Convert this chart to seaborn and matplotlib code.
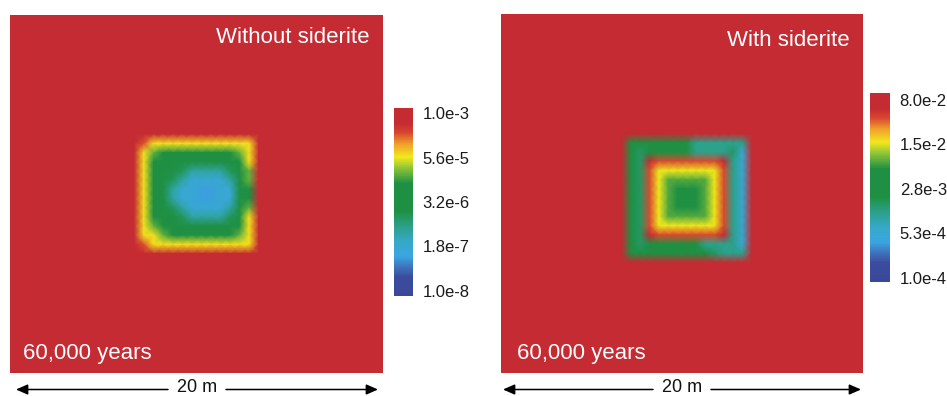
import numpy as np
import pandas as pd
import matplotlib
matplotlib.use("Agg")
import matplotlib.pyplot as plt
from matplotlib.colors import LinearSegmentedColormap
from matplotlib.patches import FancyArrowPatch
import seaborn as sns

# ---------------- data (log10 concentration fields, 40 x 40 samples over 20 m x 20 m) ----------------
LEFT_CODES = ["R", "O", "Y", "y", "G", "g", "t", "B", "b"]
LEFT_LOG10 = [-2.9, -3.6, -4.2, -4.7, -5.5, -5.9, -6.35, -6.8, -7.05]
LEFT_TICK_LABELS = ["1.0e-8", "1.8e-7", "3.2e-6", "5.6e-5", "1.0e-3"]
LEFT_RANGE = [-8.14, -2.86]

RIGHT_CODES = ["R", "O", "Y", "y", "g", "G", "T", "t", "B"]
RIGHT_LOG10 = [-1.0, -1.4, -1.8, -2.1, -2.3, -2.55, -2.8, -2.95, -3.25]
RIGHT_TICK_LABELS = ["1.0e-4", "5.3e-4", "2.8e-3", "1.5e-2", "8.0e-2"]
RIGHT_RANGE = [-4.07, -0.99]

LEFT_ROWS = [
    "RRRRRRRRRR" "RRRRRRRRRR" "RRRRRRRRRR" "RRRRRRRRRR",
    "RRRRRRRRRR" "RRRRRRRRRR" "RRRRRRRRRR" "RRRRRRRRRR",
    "RRRRRRRRRR" "RRRRRRRRRR" "RRRRRRRRRR" "RRRRRRRRRR",
    "RRRRRRRRRR" "RRRRRRRRRR" "RRRRRRRRRR" "RRRRRRRRRR",
    "RRRRRRRRRR" "RRRRRRRRRR" "RRRRRRRRRR" "RRRRRRRRRR",
    "RRRRRRRRRR" "RRRRRRRRRR" "RRRRRRRRRR" "RRRRRRRRRR",
    "RRRRRRRRRR" "RRRRRRRRRR" "RRRRRRRRRR" "RRRRRRRRRR",
    "RRRRRRRRRR" "RRRRRRRRRR" "RRRRRRRRRR" "RRRRRRRRRR",
    "RRRRRRRRRR" "RRRRRRRRRR" "RRRRRRRRRR" "RRRRRRRRRR",
    "RRRRRRRRRR" "RRRRRRRRRR" "RRRRRRRRRR" "RRRRRRRRRR",
    "RRRRRRRRRR" "RRRRRRRRRR" "RRRRRRRRRR" "RRRRRRRRRR",
    "RRRRRRRRRR" "RRRRRRRRRR" "RRRRRRRRRR" "RRRRRRRRRR",
    "RRRRRRRRRR" "RRRRRRRRRR" "RRRRRRRRRR" "RRRRRRRRRR",
    "RRRRRRRRRR" "RRRRRRRRRR" "RRRRRRRRRR" "RRRRRRRRRR",
    "RRRRRRR" "RRRRRRR" "OYYYYYYYYYYY" "RRRRRRR" "RRRRRRR",
    "RRRRRRR" "RRRRRRR" "YyGGGGGGGGyY" "RRRRRRR" "RRRRRRR",
    "RRRRRRR" "RRRRRRR" "YGGGGGGGGGGY" "RRRRRRR" "RRRRRRR",
    "RRRRRRR" "RRRRRRR" "YGGGgttttgGy" "RRRRRRR" "RRRRRRR",
    "RRRRRRR" "RRRRRRR" "YGGgtBBBBtGy" "RRRRRRR" "RRRRRRR",
    "RRRRRRR" "RRRRRRR" "YGGtBBbbBBGG" "RRRRRRR" "RRRRRRR",
    "RRRRRRR" "RRRRRRR" "YGGtBBbbBBGG" "RRRRRRR" "RRRRRRR",
    "RRRRRRR" "RRRRRRR" "YGGgtBBBBtGy" "RRRRRRR" "RRRRRRR",
    "RRRRRRR" "RRRRRRR" "YGGGgttttgGY" "RRRRRRR" "RRRRRRR",
    "RRRRRRR" "RRRRRRR" "YyGGGGGGGGGY" "RRRRRRR" "RRRRRRR",
    "RRRRRRR" "RRRRRRR" "YYyGGGGGGGyY" "RRRRRRR" "RRRRRRR",
    "RRRRRRR" "RRRRRRR" "OYYYYYYYYYYY" "RRRRRRR" "RRRRRRR",
    "RRRRRRRRRR" "RRRRRRRRRR" "RRRRRRRRRR" "RRRRRRRRRR",
    "RRRRRRRRRR" "RRRRRRRRRR" "RRRRRRRRRR" "RRRRRRRRRR",
    "RRRRRRRRRR" "RRRRRRRRRR" "RRRRRRRRRR" "RRRRRRRRRR",
    "RRRRRRRRRR" "RRRRRRRRRR" "RRRRRRRRRR" "RRRRRRRRRR",
    "RRRRRRRRRR" "RRRRRRRRRR" "RRRRRRRRRR" "RRRRRRRRRR",
    "RRRRRRRRRR" "RRRRRRRRRR" "RRRRRRRRRR" "RRRRRRRRRR",
    "RRRRRRRRRR" "RRRRRRRRRR" "RRRRRRRRRR" "RRRRRRRRRR",
    "RRRRRRRRRR" "RRRRRRRRRR" "RRRRRRRRRR" "RRRRRRRRRR",
    "RRRRRRRRRR" "RRRRRRRRRR" "RRRRRRRRRR" "RRRRRRRRRR",
    "RRRRRRRRRR" "RRRRRRRRRR" "RRRRRRRRRR" "RRRRRRRRRR",
    "RRRRRRRRRR" "RRRRRRRRRR" "RRRRRRRRRR" "RRRRRRRRRR",
    "RRRRRRRRRR" "RRRRRRRRRR" "RRRRRRRRRR" "RRRRRRRRRR",
    "RRRRRRRRRR" "RRRRRRRRRR" "RRRRRRRRRR" "RRRRRRRRRR",
    "RRRRRRRRRR" "RRRRRRRRRR" "RRRRRRRRRR" "RRRRRRRRRR",
]

RIGHT_ROWS = [
    "RRRRRRRRRR" "RRRRRRRRRR" "RRRRRRRRRR" "RRRRRRRRRR",
    "RRRRRRRRRR" "RRRRRRRRRR" "RRRRRRRRRR" "RRRRRRRRRR",
    "RRRRRRRRRR" "RRRRRRRRRR" "RRRRRRRRRR" "RRRRRRRRRR",
    "RRRRRRRRRR" "RRRRRRRRRR" "RRRRRRRRRR" "RRRRRRRRRR",
    "RRRRRRRRRR" "RRRRRRRRRR" "RRRRRRRRRR" "RRRRRRRRRR",
    "RRRRRRRRRR" "RRRRRRRRRR" "RRRRRRRRRR" "RRRRRRRRRR",
    "RRRRRRRRRR" "RRRRRRRRRR" "RRRRRRRRRR" "RRRRRRRRRR",
    "RRRRRRRRRR" "RRRRRRRRRR" "RRRRRRRRRR" "RRRRRRRRRR",
    "RRRRRRRRRR" "RRRRRRRRRR" "RRRRRRRRRR" "RRRRRRRRRR",
    "RRRRRRRRRR" "RRRRRRRRRR" "RRRRRRRRRR" "RRRRRRRRRR",
    "RRRRRRRRRR" "RRRRRRRRRR" "RRRRRRRRRR" "RRRRRRRRRR",
    "RRRRRRRRRR" "RRRRRRRRRR" "RRRRRRRRRR" "RRRRRRRRRR",
    "RRRRRRRRRR" "RRRRRRRRRR" "RRRRRRRRRR" "RRRRRRRRRR",
    "RRRRRRRRRR" "RRRRRRRRRR" "RRRRRRRRRR" "RRRRRRRRRR",
    "RRRRRRR" "RRRRRRR" "GGGGGGGtttttt" "RRRRRRR" "RRRRRR",
    "RRRRRRR" "RRRRRRR" "GTGGGGGttttTB" "RRRRRRR" "RRRRRR",
    "RRRRRRR" "RRRRRRR" "GTROOOOOOORtB" "RRRRRRR" "RRRRRR",
    "RRRRRRR" "RRRRRRR" "GTOYYYYYYYOtB" "RRRRRRR" "RRRRRR",
    "RRRRRRR" "RRRRRRR" "GTOYyyyyyYOtB" "RRRRRRR" "RRRRRR",
    "RRRRRRR" "RRRRRRR" "GTOYygggyYOtB" "RRRRRRR" "RRRRRR",
    "RRRRRRR" "RRRRRRR" "GTOYygGgyYOtB" "RRRRRRR" "RRRRRR",
    "RRRRRRR" "RRRRRRR" "GTOYygggyYOtB" "RRRRRRR" "RRRRRR",
    "RRRRRRR" "RRRRRRR" "GTOYyyyyyYOtB" "RRRRRRR" "RRRRRR",
    "RRRRRRR" "RRRRRRR" "GTOYYYYYYYOtB" "RRRRRRR" "RRRRRR",
    "RRRRRRR" "RRRRRRR" "GTROOOOOOORtB" "RRRRRRR" "RRRRRR",
    "RRRRRRR" "RRRRRRR" "GTGGGGGGttttB" "RRRRRRR" "RRRRRR",
    "RRRRRRR" "RRRRRRR" "GGGGGGGGGTttt" "RRRRRRR" "RRRRRR",
    "RRRRRRRRRR" "RRRRRRRRRR" "RRRRRRRRRR" "RRRRRRRRRR",
    "RRRRRRRRRR" "RRRRRRRRRR" "RRRRRRRRRR" "RRRRRRRRRR",
    "RRRRRRRRRR" "RRRRRRRRRR" "RRRRRRRRRR" "RRRRRRRRRR",
    "RRRRRRRRRR" "RRRRRRRRRR" "RRRRRRRRRR" "RRRRRRRRRR",
    "RRRRRRRRRR" "RRRRRRRRRR" "RRRRRRRRRR" "RRRRRRRRRR",
    "RRRRRRRRRR" "RRRRRRRRRR" "RRRRRRRRRR" "RRRRRRRRRR",
    "RRRRRRRRRR" "RRRRRRRRRR" "RRRRRRRRRR" "RRRRRRRRRR",
    "RRRRRRRRRR" "RRRRRRRRRR" "RRRRRRRRRR" "RRRRRRRRRR",
    "RRRRRRRRRR" "RRRRRRRRRR" "RRRRRRRRRR" "RRRRRRRRRR",
    "RRRRRRRRRR" "RRRRRRRRRR" "RRRRRRRRRR" "RRRRRRRRRR",
    "RRRRRRRRRR" "RRRRRRRRRR" "RRRRRRRRRR" "RRRRRRRRRR",
    "RRRRRRRRRR" "RRRRRRRRRR" "RRRRRRRRRR" "RRRRRRRRRR",
    "RRRRRRRRRR" "RRRRRRRRRR" "RRRRRRRRRR" "RRRRRRRRRR",
]

PANEL_TITLES = ["Without siderite", "With siderite"]
TIME_LABEL = "60,000 years"
SCALE_LABEL = "20 m"

# ---------------- styling ----------------
CMAP_NODES = [0.0, 0.10, 0.16, 0.21, 0.29, 0.38, 0.45, 0.60, 0.68, 0.74, 0.81, 0.87, 0.92, 1.0]
CMAP_COLORS = ["#3a4898", "#3c4c9e", "#3f78c0", "#3aa6e0", "#36a8c8", "#2a9f80", "#1f9043",
               "#1f9043", "#8cc43a", "#f2e81c", "#f0a02a", "#d8452e", "#c52b33", "#c52b33"]
cmap = LinearSegmentedColormap.from_list("conc", list(zip(CMAP_NODES, CMAP_COLORS)))

sns.set_style("white")
plt.rcParams["font.family"] = ["Liberation Sans", "DejaVu Sans"]

W, H = 947, 396
fig = plt.figure(figsize=(W / 100, H / 100), dpi=100)


def px_axes(x0, y0, x1, y1):
    return fig.add_axes([x0 / W, 1 - y1 / H, (x1 - x0) / W, (y1 - y0) / H])


def draw_panel(ax, cax, rows, codes, logs, vrange, tick_labels, title, title_xy, time_xy):
    assert all(len(r) == 40 for r in rows) and len(rows) == 40
    lut = dict(zip(codes, logs))
    field = pd.DataFrame([[lut[c] for c in r] for r in rows])
    sns.heatmap(field, ax=ax, cbar_ax=cax, cmap=cmap, vmin=vrange[0], vmax=vrange[1],
                shading="gouraud", xticklabels=False, yticklabels=False)
    ax.set_xlim(0, field.shape[1] - 1)
    ax.set_ylim(field.shape[0] - 1, 0)
    ax.set_facecolor("#c52b33")
    for s in ax.spines.values():
        s.set_visible(False)
    cb = ax.collections[0].colorbar
    ticks = [np.log10(float(t)) for t in tick_labels]
    cb.set_ticks(ticks, labels=tick_labels)
    cb.ax.tick_params(length=0, pad=7, labelsize=12, colors="#1a1a1a")
    cb.outline.set_visible(False)
    ax.text(title_xy[0], title_xy[1], title, transform=ax.transAxes, ha="right",
            va="baseline", color="white", fontsize=16)
    ax.text(time_xy[0], time_xy[1], TIME_LABEL, transform=ax.transAxes, ha="left",
            va="baseline", color="white", fontsize=16)


axL = px_axes(10, 15, 383, 373)
caxL = px_axes(394, 108, 413, 296)
axR = px_axes(501, 14, 863, 373)
caxR = px_axes(870, 93, 890, 282)

draw_panel(axL, caxL, LEFT_ROWS, LEFT_CODES, LEFT_LOG10, LEFT_RANGE, LEFT_TICK_LABELS,
           PANEL_TITLES[0], (0.965, 0.922), (0.034, 0.039))
draw_panel(axR, caxR, RIGHT_ROWS, RIGHT_CODES, RIGHT_LOG10, RIGHT_RANGE, RIGHT_TICK_LABELS,
           PANEL_TITLES[1], (0.964, 0.912), (0.044, 0.039))

# scale arrows: two half-arrows with a gap for the label
for x0, x1 in [(16, 378), (503, 861)]:
    y = 1 - 389.5 / H
    xc = (x0 + x1) / 2
    for a, b in [(xc - 29, x0), (xc + 29, x1)]:
        fig.add_artist(FancyArrowPatch((a / W, y), (b / W, y), transform=fig.transFigure,
                                       arrowstyle="-|>,head_length=0.5,head_width=0.22",
                                       mutation_scale=14, color="black", lw=1.1,
                                       shrinkA=0, shrinkB=0))
    fig.text(xc / W, 1 - 392.0 / H, SCALE_LABEL, ha="center", va="baseline",
             fontsize=13, color="#111111")

fig.savefig("out.png", dpi=100)
